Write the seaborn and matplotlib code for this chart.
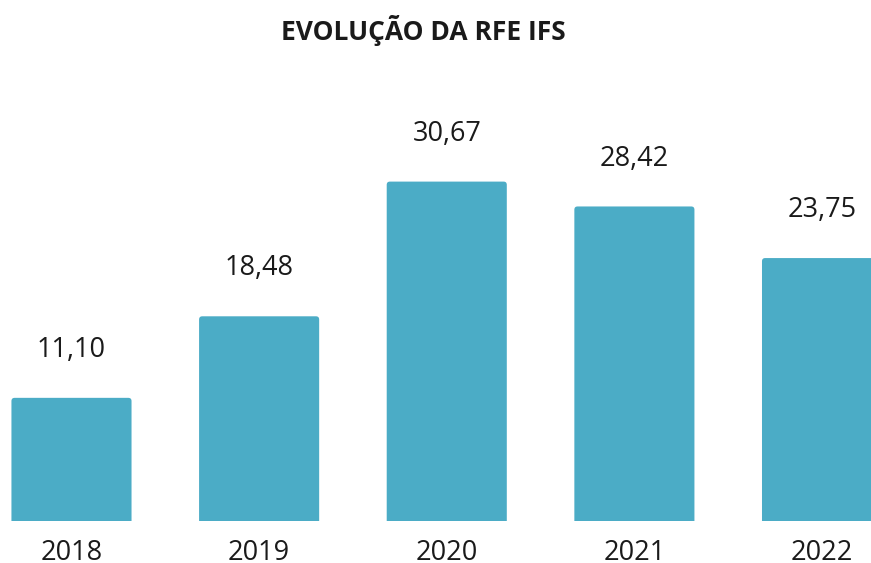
import pandas as pd
import matplotlib.pyplot as plt
import seaborn as sns
from matplotlib.patches import FancyBboxPatch

# Values
years = ["2018", "2019", "2020", "2021", "2022"]
rfe = [11.10, 18.48, 30.67, 28.42, 23.75]
labels = ["11,10", "18,48", "30,67", "28,42", "23,75"]

df = pd.DataFrame({"ano": years, "rfe": rfe})

sns.set_style("white")
plt.rcParams["font.family"] = ["Open Sans", "DejaVu Sans"]

fig = plt.figure(figsize=(8.71, 5.63), dpi=100)
ax = fig.add_axes([0, 42.5 / 563, 1, (520.5 - 60) / 563])

sns.barplot(data=df, x="ano", y="rfe", color="#4BACC6", saturation=1,
            width=0.64, linewidth=0, ax=ax)

ax.set_xlim(-0.381, 4.261)
ax.set_ylim(0, 460.5 / 11.05)

# swap the square bars for ones with slightly rounded top corners
for p in list(ax.patches):
    x, w, h = p.get_x(), p.get_width(), p.get_height()
    rb = FancyBboxPatch((x, -0.5), w, h + 0.5,
                        boxstyle="round,pad=0,rounding_size=0.017",
                        mutation_aspect=17, facecolor="#4BACC6",
                        edgecolor="none", clip_on=True)
    p.remove()
    ax.add_patch(rb)

# value labels above each bar
for i, (v, lab) in enumerate(zip(rfe, labels)):
    ax.annotate(lab, (i, v), xytext=(0, 34.5), textcoords="offset points",
                ha="center", va="center", fontsize=19.5, color="#1a1a1a")

ax.set_xlabel("")
ax.set_ylabel("")
ax.set_yticks([])
ax.tick_params(axis="x", length=0, pad=13, labelsize=19.5, labelcolor="#1a1a1a")
sns.despine(ax=ax, left=True, bottom=True)

fig.text(0.486, 1 - 30 / 563, "EVOLUÇÃO DA RFE IFS", ha="center", va="center",
         fontsize=19, fontweight="bold", color="#1a1a1a")

fig.savefig("out.png", dpi=100)
